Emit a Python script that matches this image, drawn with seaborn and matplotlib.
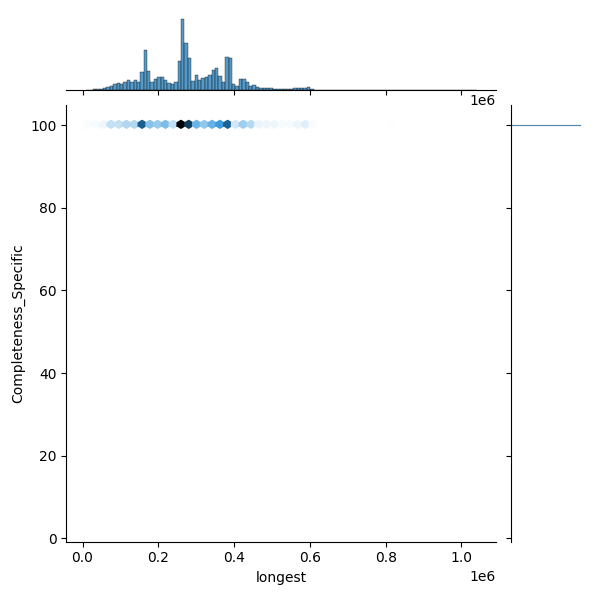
import numpy as np
import pandas as pd
import seaborn as sns
import matplotlib
matplotlib.use("Agg")
import matplotlib.pyplot as plt
from seaborn.utils import set_hls_values

# bin edges of the longest histogram (read from the top margin)
longest_start = 9000
longest_stop = 1040000
n_bins = 115

# counts per bin, left to right (bins after the list are empty)
bin_counts = [10, 10, 15, 15, 20, 35, 50, 70, 90, 115,
              95, 125, 150, 125, 150, 125, 275, 600, 290, 125,
              170, 190, 190, 150, 110, 95, 125, 435, 1065, 695,
              485, 135, 225, 150, 175, 200, 225, 300, 335, 210,
              125, 500, 485, 90, 70, 165, 165, 125, 60, 75,
              50, 30, 30, 30, 30, 15, 15, 15, 15, 15,
              15, 30, 30, 30, 30, 50, 20]

# a few long contigs in the sparse tail
tail_longest = [625000, 630000, 635000, 640000, 645000, 650000, 655000,
                660000, 665000, 670000, 700000, 720000,
                800000, 803000, 806000, 809000, 812000, 815000, 818000,
                821000, 824000, 827000, 830000, 833000, 836000, 839000,
                1040000]

# one low-completeness record
low_longest = [250000]
low_completeness = [4.0]

edges = np.linspace(longest_start, longest_stop, n_bins + 1)
centers = (edges[:-1] + edges[1:]) / 2
longest = np.concatenate([
    np.repeat(centers[:len(bin_counts)], bin_counts),
    tail_longest,
    low_longest,
])
completeness = np.concatenate([
    np.full(len(longest) - len(low_completeness), 100.0),
    low_completeness,
])
df = pd.DataFrame({"longest": longest, "Completeness_Specific": completeness})

color = "C0"
color_rgb = matplotlib.colors.to_rgb(color)
colors = [set_hls_values(color_rgb, l=val) for val in np.linspace(1, 0, 12)]
cmap = sns.blend_palette(colors, as_cmap=True)

g = sns.JointGrid(data=df, x="longest", y="Completeness_Specific", height=6)
g.plot_joint(plt.hexbin, gridsize=50, cmap=cmap)
sns.histplot(data=df, x="longest", bins=edges, color=color, ax=g.ax_marg_x)
sns.histplot(data=df, y="Completeness_Specific", bins=np.arange(4, 100.25, 0.25),
             color=color, ax=g.ax_marg_y)
g.set_axis_labels("longest", "Completeness_Specific")

g.figure.savefig("out.png", dpi=100)
